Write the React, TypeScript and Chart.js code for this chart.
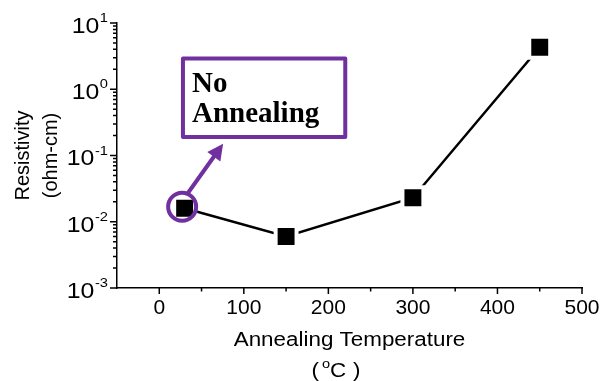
import React, { useEffect, useRef } from 'react';
import { Chart, registerables } from 'chart.js';

Chart.register(...registerables);

// ---- data ----
const temperatures = [30, 150, 300, 450];
const resistivity = [0.016, 0.006, 0.023, 4.3];
const xMajorTicks = [0, 100, 200, 300, 400, 500];
const xMinorTicks = [50, 150, 250, 350, 450];
const yDecades = [-3, -2, -1, 0, 1];
const yTitleLines = ['Resistivity', '(ohm-cm)'];
const xTitleLine = 'Annealing Temperature';
const xUnitParts = ['(', 'o', 'C', ')'];
const calloutLines = ['No', 'Annealing'];
const calloutXRange = [28, 220];
const calloutYRange = [2.9, 0.19];

const PURPLE = '#7030A0';
const SANS = '"Liberation Sans", Arial, Helvetica, sans-serif';
const SERIF = '"Liberation Serif", "Times New Roman", serif';

function stretchedText(
  ctx: CanvasRenderingContext2D,
  text: string,
  x: number,
  y: number,
  align: CanvasTextAlign,
  sx: number
) {
  ctx.save();
  ctx.translate(x, y);
  ctx.scale(sx, 1);
  ctx.textAlign = align;
  ctx.fillText(text, 0, 0);
  ctx.restore();
}

const decorPlugin = {
  id: 'decor',
  afterDraw(chart: any) {
    const ctx: CanvasRenderingContext2D = chart.ctx;
    const xs = chart.scales.x;
    const ys = chart.scales.y;
    const area = chart.chartArea;
    ctx.save();

    // tick marks
    ctx.strokeStyle = '#000';
    ctx.lineWidth = 1.5;
    ctx.beginPath();
    for (const v of xMajorTicks) {
      const px = xs.getPixelForValue(v);
      ctx.moveTo(px, area.bottom);
      ctx.lineTo(px, area.bottom + 6);
    }
    for (const v of xMinorTicks) {
      const px = xs.getPixelForValue(v);
      ctx.moveTo(px, area.bottom);
      ctx.lineTo(px, area.bottom + 3.5);
    }
    const maxDec = yDecades[yDecades.length - 1];
    for (const d of yDecades) {
      const py = ys.getPixelForValue(Math.pow(10, d));
      ctx.moveTo(area.left - 7, py);
      ctx.lineTo(area.left, py);
      if (d < maxDec) {
        for (let k = 2; k <= 9; k++) {
          const pm = ys.getPixelForValue(k * Math.pow(10, d));
          ctx.moveTo(area.left - 4, pm);
          ctx.lineTo(area.left, pm);
        }
      }
    }
    ctx.stroke();

    // y tick labels with superscript exponents
    ctx.fillStyle = '#000';
    ctx.textBaseline = 'alphabetic';
    const labelRight = area.left - 9;
    const ySx = 1.13;
    for (const d of yDecades) {
      const py = ys.getPixelForValue(Math.pow(10, d));
      const exp = d < 0 ? '-' + Math.abs(d) : String(d);
      ctx.font = `13px ${SANS}`;
      const ew = ctx.measureText(exp).width * ySx;
      stretchedText(ctx, exp, labelRight, py - 1, 'right', ySx);
      ctx.font = `22px ${SANS}`;
      stretchedText(ctx, '10', labelRight - ew - 0.5, py + 9.8, 'right', ySx);
    }

    // y title
    ctx.save();
    ctx.translate(0, (area.top + area.bottom) / 2);
    ctx.rotate(-Math.PI / 2);
    ctx.textAlign = 'center';
    ctx.font = `20px ${SANS}`;
    ctx.fillText(yTitleLines[0], 0, 29);
    ctx.fillText(yTitleLines[1], 0, 57);
    ctx.restore();

    // x title
    const cx = (area.left + area.right) / 2;
    const tSx = 1.12;
    ctx.font = `20px ${SANS}`;
    stretchedText(ctx, xTitleLine, cx, 346, 'center', tSx);
    stretchedText(ctx, xUnitParts[0], cx - 38, 377, 'left', tSx);
    stretchedText(ctx, xUnitParts[2], cx - 19.5, 377, 'left', tSx);
    stretchedText(ctx, xUnitParts[3], cx + 11, 377, 'right', tSx);
    ctx.font = `13px ${SANS}`;
    stretchedText(ctx, xUnitParts[1], cx - 27.5, 368, 'left', tSx);

    // callout box
    const bx0 = xs.getPixelForValue(calloutXRange[0]);
    const bx1 = xs.getPixelForValue(calloutXRange[1]);
    const by0 = ys.getPixelForValue(calloutYRange[0]);
    const by1 = ys.getPixelForValue(calloutYRange[1]);
    ctx.strokeStyle = PURPLE;
    ctx.lineWidth = 4;
    ctx.lineJoin = 'round';
    ctx.strokeRect(bx0, by0, bx1 - bx0, by1 - by0);
    ctx.fillStyle = '#000';
    ctx.font = `bold 29px ${SERIF}`;
    ctx.textAlign = 'left';
    ctx.fillText(calloutLines[0], bx0 + 9, by0 + 33);
    ctx.fillText(calloutLines[1], bx0 + 9, by0 + 63);

    // circle + arrow on first point
    const p = chart.getDatasetMeta(0).data[0];
    ctx.beginPath();
    ctx.arc(p.x - 2.5, p.y - 1.5, 14, 0, Math.PI * 2);
    ctx.stroke();
    const sx = p.x + 3.5, sy = p.y - 15.5;
    const tx = p.x + 38.5, ty = p.y - 64.5;
    const ang = Math.atan2(ty - sy, tx - sx);
    const headLen = 16, headHalf = 8;
    const bxh = tx - headLen * Math.cos(ang);
    const byh = ty - headLen * Math.sin(ang);
    ctx.lineCap = 'round';
    ctx.beginPath();
    ctx.moveTo(sx, sy);
    ctx.lineTo(bxh, byh);
    ctx.stroke();
    ctx.fillStyle = PURPLE;
    ctx.beginPath();
    ctx.moveTo(tx, ty);
    ctx.lineTo(bxh + headHalf * Math.sin(ang), byh - headHalf * Math.cos(ang));
    ctx.lineTo(bxh - headHalf * Math.sin(ang), byh + headHalf * Math.cos(ang));
    ctx.closePath();
    ctx.fill();

    ctx.restore();
  },
};

export default function App() {
  const canvasRef = useRef<HTMLCanvasElement | null>(null);

  useEffect(() => {
    if (!canvasRef.current) return;
    const chart = new Chart(canvasRef.current, {
      type: 'line',
      data: {
        datasets: [
          {
            data: temperatures.map((t, i) => ({ x: t, y: resistivity[i] })),
            borderColor: '#000',
            borderWidth: 2.5,
            tension: 0,
            pointStyle: 'rect',
            pointRadius: 14.8,
            pointBackgroundColor: '#000',
            pointBorderColor: '#fff',
            pointBorderWidth: 4,
            fill: false,
          },
        ],
      },
      options: {
        animation: false,
        responsive: false,
        events: [],
        layout: { padding: { left: 0, right: 28, top: 23, bottom: 0 } },
        plugins: {
          legend: { display: false },
          tooltip: { enabled: false },
          title: { display: false },
        },
        scales: {
          x: {
            type: 'linear',
            min: -50,
            max: 500,
            afterBuildTicks(scale: any) {
              scale.ticks = xMajorTicks.map((v) => ({ value: v }));
            },
            ticks: {
              color: '#000',
              font: { family: SANS, size: 21 },
              padding: 1,
              maxRotation: 0,
              autoSkip: false,
            },
            grid: { display: false, drawTicks: true, tickLength: 7 },
            border: { display: true, color: '#000', width: 1.5 },
            afterFit(scale: any) {
              scale.height = 93;
            },
          },
          y: {
            type: 'logarithmic',
            min: 0.001,
            max: 10,
            ticks: { display: false },
            grid: { display: false },
            border: { display: true, color: '#000', width: 1.5 },
            afterFit(scale: any) {
              scale.width = 117;
            },
          },
        },
      },
      plugins: [decorPlugin],
    } as any);
    return () => chart.destroy();
  }, []);

  return (
    <div style={{ position: 'fixed', left: 0, top: 0, width: 610, height: 381, background: '#fff' }}>
      <canvas ref={canvasRef} width={610} height={381} style={{ display: 'block', width: 610, height: 381 }} />
    </div>
  );
}
